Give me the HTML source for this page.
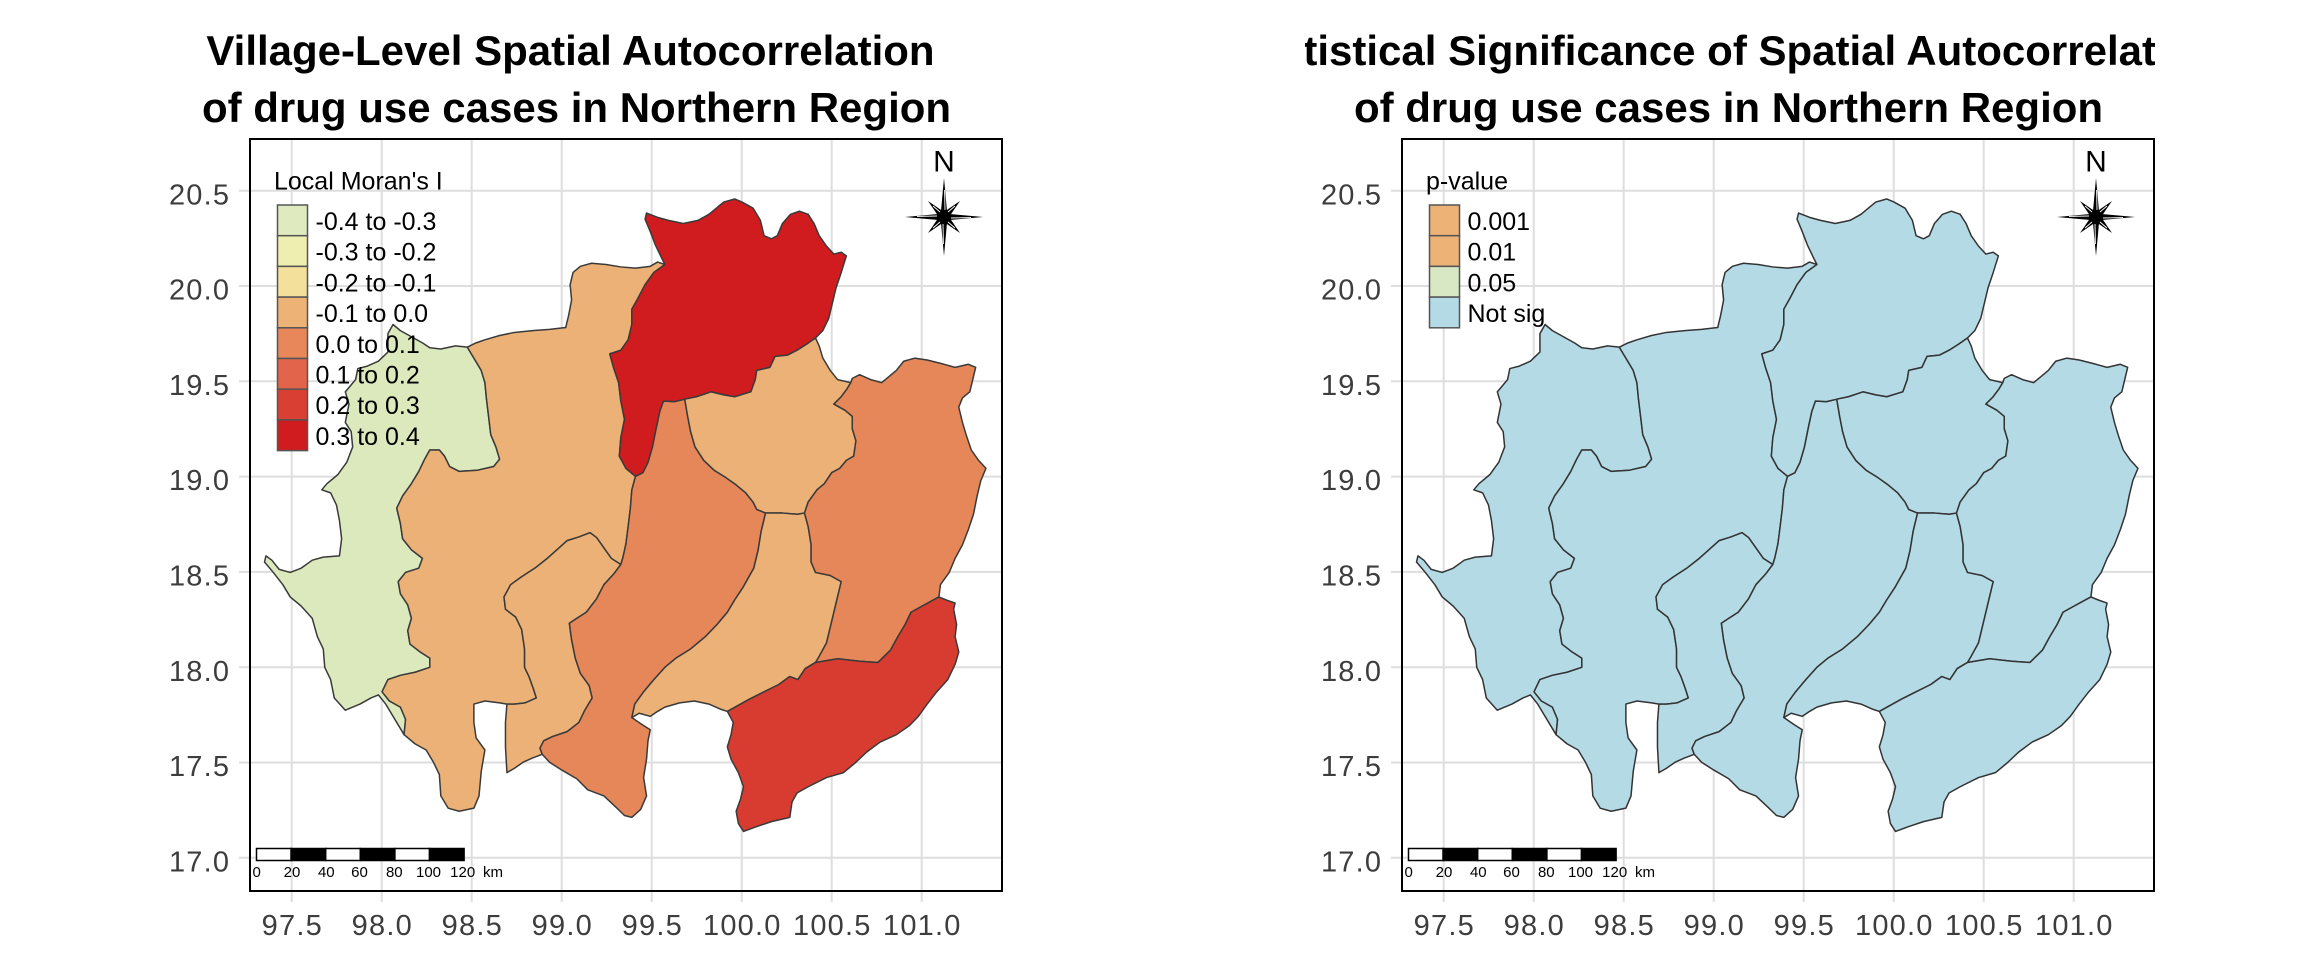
<!DOCTYPE html>
<html>
<head>
<meta charset="utf-8">
<style>
html,body{margin:0;padding:0;background:#fff;}
body{width:2304px;height:960px;overflow:hidden;}
svg{display:block;}
text{font-family:"Liberation Sans",Arial,sans-serif;}
.tl{font-size:29px;fill:#3d3d3d;letter-spacing:1.2px;}
.ttl{font-size:42px;font-weight:bold;fill:#000;}
.lg{font-size:25px;fill:#000;}
.sb{font-size:15px;fill:#000;}
.grid line{stroke:#dedede;stroke-width:2;}
</style>
</head>
<body>
<svg width="2304" height="960" viewBox="0 0 2304 960" xmlns="http://www.w3.org/2000/svg" xmlns:xlink="http://www.w3.org/1999/xlink">
<defs>
<clipPath id="tc1"><rect x="150" y="0" width="853" height="140"/></clipPath>
<clipPath id="tc2"><rect x="1305" y="0" width="850" height="140"/></clipPath>
<polygon id="p_mhs" vector-effect="non-scaling-stroke" points="636,567 620,565 600,570 585,568 575,560 560,550 545,540 535,530 528,545 528,575 515,590 500,598 487,602 484,620 470,640 475,660 470,690 478,705 480,730 472,755 460,775 445,790 438,800 450,805 458,825 462,850 465,880 462,908 440,910 425,915 410,928 395,935 380,930 370,915 362,908 360,918 372,935 385,955 395,975 410,990 425,1010 432,1040 440,1060 442,1090 450,1110 455,1140 470,1160 490,1150 505,1140 515,1135 525,1150 535,1170 545,1190 550,1200 552,1175 545,1155 530,1145 520,1130 528,1110 545,1103 565,1098 585,1090 585,1075 572,1065 558,1052 555,1030 560,1010 555,988 545,970 542,950 552,935 570,928 575,912 560,898 548,880 545,855 540,830 548,810 560,790 570,770 578,750 585,735 598,735 605,745 612,762 625,770 650,768 672,762 680,750 675,730 668,710 665,680 662,650 660,625 655,605 645,585"/>
<polygon id="p_cm" vector-effect="non-scaling-stroke" points="905,432 895,428 885,435 865,438 845,436 825,432 805,430 790,435 780,445 776,465 778,490 774,515 770,535 748,538 725,540 700,543 680,548 660,555 648,560 636,567 645,585 655,605 660,625 662,650 665,680 668,710 675,730 680,750 672,762 650,768 625,770 612,762 605,745 598,735 585,735 578,750 570,770 560,790 548,810 540,830 545,855 548,880 560,898 575,912 570,928 552,935 542,950 545,970 555,988 560,1010 555,1030 558,1052 572,1065 585,1075 585,1090 565,1098 545,1103 528,1110 520,1130 530,1145 545,1155 552,1175 550,1200 565,1215 580,1225 590,1245 598,1265 600,1300 610,1320 625,1325 645,1320 652,1300 655,1260 660,1225 648,1205 645,1180 645,1150 660,1145 680,1148 690,1150 700,1150 715,1148 730,1140 726,1125 720,1105 714,1090 714,1060 710,1028 702,1008 688,995 686,975 695,955 710,942 728,928 745,912 758,898 772,883 788,877 803,870 812,878 822,895 832,912 845,922 848,910 852,888 855,860 858,830 860,800 865,778 852,765 843,745 845,715 850,685 845,655 842,625 835,600 830,578 845,572 855,555 860,530 860,505 868,488 878,465 890,445"/>
<polygon id="p_lpn" vector-effect="non-scaling-stroke" points="845,922 832,912 822,895 812,878 803,870 788,877 772,883 758,898 745,912 728,928 710,942 695,955 686,975 688,995 702,1008 710,1028 714,1060 714,1090 720,1105 726,1125 730,1140 715,1148 700,1150 690,1150 688,1180 688,1220 690,1262 700,1255 712,1245 725,1238 738,1232 735,1222 740,1210 752,1203 772,1195 788,1180 796,1160 806,1140 802,1120 790,1100 783,1075 778,1045 775,1018 785,1010 798,1000 812,978 822,955 835,938"/>
<polygon id="p_lpg" vector-effect="non-scaling-stroke" points="845,922 835,938 822,955 812,978 798,1000 785,1010 775,1018 778,1045 783,1075 790,1100 802,1120 806,1140 796,1160 788,1180 772,1195 752,1203 740,1210 735,1222 738,1232 748,1245 765,1258 785,1272 800,1290 822,1300 838,1318 850,1332 860,1335 872,1322 880,1300 876,1270 880,1240 882,1210 885,1192 872,1182 860,1172 864,1150 876,1130 890,1110 905,1090 920,1075 940,1060 960,1040 976,1020 990,1000 1000,980 1012,958 1026,928 1032,898 1036,868 1042,838 1030,832 1025,820 1015,805 1002,792 988,780 972,768 958,752 946,730 940,705 936,680 932,652 918,656 903,655 898,672 893,700 888,730 882,755 875,772 865,778 860,800 858,830 855,860 852,888 848,910"/>
<polygon id="p_cr" vector-effect="non-scaling-stroke" points="1110,552 1120,540 1128,520 1133,495 1138,470 1145,445 1152,418 1145,412 1135,415 1125,402 1115,385 1108,365 1100,350 1088,345 1076,350 1065,365 1058,385 1050,390 1040,385 1035,360 1025,340 1010,330 1000,325 985,330 975,340 965,350 950,360 930,365 910,360 895,355 880,348 878,358 885,378 892,400 900,420 905,432 890,445 878,465 868,488 860,505 860,530 855,555 845,572 830,578 835,600 842,625 845,655 850,685 845,715 843,745 852,765 865,778 875,772 882,755 888,730 893,700 898,672 903,655 918,656 932,652 948,648 968,640 985,645 1000,648 1022,640 1028,620 1030,605 1048,600 1055,582 1072,580 1085,572 1098,562"/>
<polygon id="p_phy" vector-effect="non-scaling-stroke" points="1158,625 1140,620 1130,605 1120,585 1115,565 1110,552 1098,562 1085,572 1072,580 1055,582 1048,600 1030,605 1028,620 1022,640 1000,648 985,645 968,640 948,648 932,652 936,680 940,705 946,730 958,752 972,768 988,780 1002,792 1015,805 1025,820 1030,832 1042,838 1065,838 1085,840 1095,838 1100,820 1112,800 1122,790 1132,772 1143,765 1152,752 1162,745 1165,720 1160,700 1160,680 1150,670 1135,660 1145,648 1153,635"/>
<polygon id="p_phr" vector-effect="non-scaling-stroke" points="1042,838 1036,868 1032,898 1026,928 1012,958 1000,980 990,1000 976,1020 960,1040 940,1060 920,1075 905,1090 890,1110 876,1130 864,1150 860,1172 870,1165 885,1170 895,1162 905,1155 925,1148 945,1145 965,1150 980,1158 990,1162 1005,1152 1020,1142 1040,1130 1060,1118 1075,1105 1086,1110 1096,1092 1110,1082 1115,1072 1125,1050 1130,1025 1135,1000 1140,975 1145,950 1130,940 1110,935 1104,918 1104,890 1100,860 1095,838 1085,840 1065,838"/>
<polygon id="p_nan" vector-effect="non-scaling-stroke" points="1278,975 1280,955 1292,935 1300,912 1310,890 1318,865 1325,840 1330,810 1335,785 1342,765 1332,752 1322,735 1315,710 1310,690 1305,665 1310,650 1320,640 1325,615 1328,600 1318,595 1300,600 1285,595 1262,588 1245,585 1230,590 1220,605 1210,615 1200,625 1185,620 1170,612 1160,618 1158,625 1153,635 1145,648 1135,660 1150,670 1160,680 1160,700 1165,720 1162,745 1152,752 1143,765 1132,772 1122,790 1112,800 1100,820 1095,838 1100,860 1104,890 1104,918 1110,935 1130,940 1145,950 1140,975 1135,1000 1130,1025 1125,1050 1115,1072 1110,1082 1140,1076 1170,1080 1195,1082 1212,1062 1222,1040 1232,1020 1240,1000 1255,990"/>
<polygon id="p_utt" vector-effect="non-scaling-stroke" points="990,1162 998,1180 995,1200 990,1220 995,1240 1005,1262 1012,1285 1008,1305 1002,1325 1005,1345 1012,1358 1030,1350 1050,1342 1075,1335 1078,1310 1085,1295 1100,1285 1125,1270 1148,1262 1165,1245 1180,1228 1198,1212 1220,1200 1238,1185 1250,1170 1262,1150 1275,1130 1290,1110 1300,1085 1305,1065 1300,1040 1302,1020 1298,995 1300,985 1288,980 1278,975 1255,990 1240,1000 1232,1020 1222,1040 1212,1062 1195,1082 1170,1080 1140,1076 1110,1082 1096,1092 1086,1110 1075,1105 1060,1118 1040,1130 1020,1142 1005,1152"/>
<polygon id="star" points="944,178 946.9,210 960,201 951,214.1 983,217 951,219.9 960,233 946.9,224 944,256 941.1,224 928,233 937,219.9 905,217 937,214.1 928,201 941.1,210"/>
<g id="starlines" stroke="#fff" stroke-width="0.9" fill="none">
<line x1="945" y1="210" x2="944.6" y2="190"/>
<line x1="951" y1="218" x2="971" y2="217.6"/>
<line x1="943" y1="224" x2="943.4" y2="244"/>
<line x1="937" y1="216" x2="917" y2="216.4"/>
<line x1="948" y1="212" x2="955" y2="206"/>
<line x1="948" y1="222" x2="955" y2="228"/>
<line x1="940" y1="222" x2="933" y2="228"/>
<line x1="940" y1="212" x2="933" y2="206"/>
</g>
</defs>

<!-- ===================== LEFT PLOT ===================== -->
<g clip-path="url(#tc1)">
<text class="ttl" x="570.5" y="65" text-anchor="middle">Village-Level Spatial Autocorrelation</text>
<text class="ttl" x="576.5" y="122" text-anchor="middle">of drug use cases in Northern Region</text>
</g>

<g class="grid">
<line x1="291.7" y1="139" x2="291.7" y2="902"/>
<line x1="381.7" y1="139" x2="381.7" y2="902"/>
<line x1="471.7" y1="139" x2="471.7" y2="902"/>
<line x1="561.7" y1="139" x2="561.7" y2="902"/>
<line x1="651.7" y1="139" x2="651.7" y2="902"/>
<line x1="741.7" y1="139" x2="741.7" y2="902"/>
<line x1="831.7" y1="139" x2="831.7" y2="902"/>
<line x1="921.7" y1="139" x2="921.7" y2="902"/>
<line x1="239" y1="190.7" x2="1002" y2="190.7"/>
<line x1="239" y1="286" x2="1002" y2="286"/>
<line x1="239" y1="381.3" x2="1002" y2="381.3"/>
<line x1="239" y1="476.6" x2="1002" y2="476.6"/>
<line x1="239" y1="571.9" x2="1002" y2="571.9"/>
<line x1="239" y1="667.2" x2="1002" y2="667.2"/>
<line x1="239" y1="762.5" x2="1002" y2="762.5"/>
<line x1="239" y1="857.8" x2="1002" y2="857.8"/>
</g>

<g transform="scale(0.734694,0.612245)" stroke="#3a3a3a" stroke-width="1.5" stroke-linejoin="round">
<use xlink:href="#p_mhs" href="#p_mhs" fill="#dce9bd"/>
<use xlink:href="#p_cm" href="#p_cm" fill="#ecb176"/>
<use xlink:href="#p_lpn" href="#p_lpn" fill="#ecb176"/>
<use xlink:href="#p_lpg" href="#p_lpg" fill="#e6875a"/>
<use xlink:href="#p_cr" href="#p_cr" fill="#d01c1f"/>
<use xlink:href="#p_phy" href="#p_phy" fill="#ecb176"/>
<use xlink:href="#p_phr" href="#p_phr" fill="#ecb176"/>
<use xlink:href="#p_nan" href="#p_nan" fill="#e6875a"/>
<use xlink:href="#p_utt" href="#p_utt" fill="#d83c30"/>
</g>

<!-- legend left -->
<text class="lg" x="274" y="189.5">Local Moran's I</text>
<g stroke="#555" stroke-width="1.5">
<rect x="277.5" y="205" width="30" height="30.7" fill="#dfeabf"/>
<rect x="277.5" y="235.7" width="30" height="30.7" fill="#eeeeb1"/>
<rect x="277.5" y="266.4" width="30" height="30.7" fill="#f3e09b"/>
<rect x="277.5" y="297.1" width="30" height="30.7" fill="#edb276"/>
<rect x="277.5" y="327.8" width="30" height="30.7" fill="#e8875a"/>
<rect x="277.5" y="358.5" width="30" height="30.7" fill="#e2644a"/>
<rect x="277.5" y="389.2" width="30" height="30.7" fill="#d93f32"/>
<rect x="277.5" y="419.9" width="30" height="30.7" fill="#d01c1e"/>
</g>
<text class="lg" x="315.5" y="230">-0.4 to -0.3</text>
<text class="lg" x="315.5" y="260.7">-0.3 to -0.2</text>
<text class="lg" x="315.5" y="291.4">-0.2 to -0.1</text>
<text class="lg" x="315.5" y="322.1">-0.1 to 0.0</text>
<text class="lg" x="315.5" y="352.8">0.0 to 0.1</text>
<text class="lg" x="315.5" y="383.5">0.1 to 0.2</text>
<text class="lg" x="315.5" y="414.2">0.2 to 0.3</text>
<text class="lg" x="315.5" y="444.9">0.3 to 0.4</text>

<!-- scale bar left -->
<g stroke="#000" stroke-width="1.5">
<rect x="256.5" y="848.5" width="34.6" height="12" fill="#fff"/>
<rect x="291.1" y="848.5" width="34.6" height="12" fill="#000"/>
<rect x="325.7" y="848.5" width="34.6" height="12" fill="#fff"/>
<rect x="360.3" y="848.5" width="34.6" height="12" fill="#000"/>
<rect x="394.9" y="848.5" width="34.6" height="12" fill="#fff"/>
<rect x="429.5" y="848.5" width="34.6" height="12" fill="#000"/>
</g>
<g class="sb" text-anchor="middle">
<text x="256.7" y="877">0</text>
<text x="292" y="877">20</text>
<text x="326.3" y="877">40</text>
<text x="359.5" y="877">60</text>
<text x="394.3" y="877">80</text>
<text x="428.5" y="877">100</text>
<text x="462.7" y="877">120</text>
</g>
<text class="sb" x="483" y="877">km</text>

<!-- north arrow left -->
<text x="944" y="171.7" text-anchor="middle" style="font-size:30px;fill:#000;">N</text>
<use xlink:href="#star" href="#star" fill="#000"/>
<use xlink:href="#starlines" href="#starlines"/>

<!-- panel border left -->
<rect x="250" y="139" width="752" height="752" fill="none" stroke="#000" stroke-width="2"/>

<!-- axis labels left -->
<g class="tl" text-anchor="end">
<text x="230.2" y="204.3">20.5</text>
<text x="230.2" y="299.6">20.0</text>
<text x="230.2" y="394.9">19.5</text>
<text x="230.2" y="490.2">19.0</text>
<text x="230.2" y="585.5">18.5</text>
<text x="230.2" y="680.8">18.0</text>
<text x="230.2" y="776.1">17.5</text>
<text x="230.2" y="871.4">17.0</text>
</g>
<g class="tl" text-anchor="middle">
<text x="292.3" y="935">97.5</text>
<text x="382.3" y="935">98.0</text>
<text x="472.3" y="935">98.5</text>
<text x="562.3" y="935">99.0</text>
<text x="652.3" y="935">99.5</text>
<text x="742.3" y="935">100.0</text>
<text x="832.3" y="935">100.5</text>
<text x="922.3" y="935">101.0</text>
</g>

<!-- ===================== RIGHT PLOT ===================== -->
<g clip-path="url(#tc2)">
<text class="ttl" x="1728.5" y="65" text-anchor="middle">Statistical Significance of Spatial Autocorrelation</text>
<text class="ttl" x="1728.5" y="122" text-anchor="middle">of drug use cases in Northern Region</text>
</g>

<g transform="translate(1152,0)">
<g class="grid">
<line x1="291.7" y1="139" x2="291.7" y2="902"/>
<line x1="381.7" y1="139" x2="381.7" y2="902"/>
<line x1="471.7" y1="139" x2="471.7" y2="902"/>
<line x1="561.7" y1="139" x2="561.7" y2="902"/>
<line x1="651.7" y1="139" x2="651.7" y2="902"/>
<line x1="741.7" y1="139" x2="741.7" y2="902"/>
<line x1="831.7" y1="139" x2="831.7" y2="902"/>
<line x1="921.7" y1="139" x2="921.7" y2="902"/>
<line x1="239" y1="190.7" x2="1002" y2="190.7"/>
<line x1="239" y1="286" x2="1002" y2="286"/>
<line x1="239" y1="381.3" x2="1002" y2="381.3"/>
<line x1="239" y1="476.6" x2="1002" y2="476.6"/>
<line x1="239" y1="571.9" x2="1002" y2="571.9"/>
<line x1="239" y1="667.2" x2="1002" y2="667.2"/>
<line x1="239" y1="762.5" x2="1002" y2="762.5"/>
<line x1="239" y1="857.8" x2="1002" y2="857.8"/>
</g>

<g transform="scale(0.734694,0.612245)" stroke="#333" stroke-width="1.5" stroke-linejoin="round" fill="#b4dae6">
<use xlink:href="#p_mhs" href="#p_mhs"/>
<use xlink:href="#p_cm" href="#p_cm"/>
<use xlink:href="#p_lpn" href="#p_lpn"/>
<use xlink:href="#p_lpg" href="#p_lpg"/>
<use xlink:href="#p_cr" href="#p_cr"/>
<use xlink:href="#p_phy" href="#p_phy"/>
<use xlink:href="#p_phr" href="#p_phr"/>
<use xlink:href="#p_nan" href="#p_nan"/>
<use xlink:href="#p_utt" href="#p_utt"/>
</g>

<!-- legend right -->
<text class="lg" x="274" y="189.5">p-value</text>
<g stroke="#555" stroke-width="1.5">
<rect x="277.5" y="205" width="30" height="30.7" fill="#edb276"/>
<rect x="277.5" y="235.7" width="30" height="30.7" fill="#edb276"/>
<rect x="277.5" y="266.4" width="30" height="30.7" fill="#d9e8c4"/>
<rect x="277.5" y="297.1" width="30" height="30.7" fill="#b4dae6"/>
</g>
<text class="lg" x="315.5" y="230">0.001</text>
<text class="lg" x="315.5" y="260.7">0.01</text>
<text class="lg" x="315.5" y="291.4">0.05</text>
<text class="lg" x="315.5" y="322.1">Not sig</text>

<!-- scale bar right -->
<g stroke="#000" stroke-width="1.5">
<rect x="256.5" y="848.5" width="34.6" height="12" fill="#fff"/>
<rect x="291.1" y="848.5" width="34.6" height="12" fill="#000"/>
<rect x="325.7" y="848.5" width="34.6" height="12" fill="#fff"/>
<rect x="360.3" y="848.5" width="34.6" height="12" fill="#000"/>
<rect x="394.9" y="848.5" width="34.6" height="12" fill="#fff"/>
<rect x="429.5" y="848.5" width="34.6" height="12" fill="#000"/>
</g>
<g class="sb" text-anchor="middle">
<text x="256.7" y="877">0</text>
<text x="292" y="877">20</text>
<text x="326.3" y="877">40</text>
<text x="359.5" y="877">60</text>
<text x="394.3" y="877">80</text>
<text x="428.5" y="877">100</text>
<text x="462.7" y="877">120</text>
</g>
<text class="sb" x="483" y="877">km</text>

<!-- north arrow right -->
<text x="944" y="171.7" text-anchor="middle" style="font-size:30px;fill:#000;">N</text>
<use xlink:href="#star" href="#star" fill="#000"/>
<use xlink:href="#starlines" href="#starlines"/>

<!-- panel border right -->
<rect x="250" y="139" width="752" height="752" fill="none" stroke="#000" stroke-width="2"/>

<!-- axis labels right -->
<g class="tl" text-anchor="end">
<text x="230.2" y="204.3">20.5</text>
<text x="230.2" y="299.6">20.0</text>
<text x="230.2" y="394.9">19.5</text>
<text x="230.2" y="490.2">19.0</text>
<text x="230.2" y="585.5">18.5</text>
<text x="230.2" y="680.8">18.0</text>
<text x="230.2" y="776.1">17.5</text>
<text x="230.2" y="871.4">17.0</text>
</g>
<g class="tl" text-anchor="middle">
<text x="292.3" y="935">97.5</text>
<text x="382.3" y="935">98.0</text>
<text x="472.3" y="935">98.5</text>
<text x="562.3" y="935">99.0</text>
<text x="652.3" y="935">99.5</text>
<text x="742.3" y="935">100.0</text>
<text x="832.3" y="935">100.5</text>
<text x="922.3" y="935">101.0</text>
</g>
</g>
</svg>
</body>
</html>
